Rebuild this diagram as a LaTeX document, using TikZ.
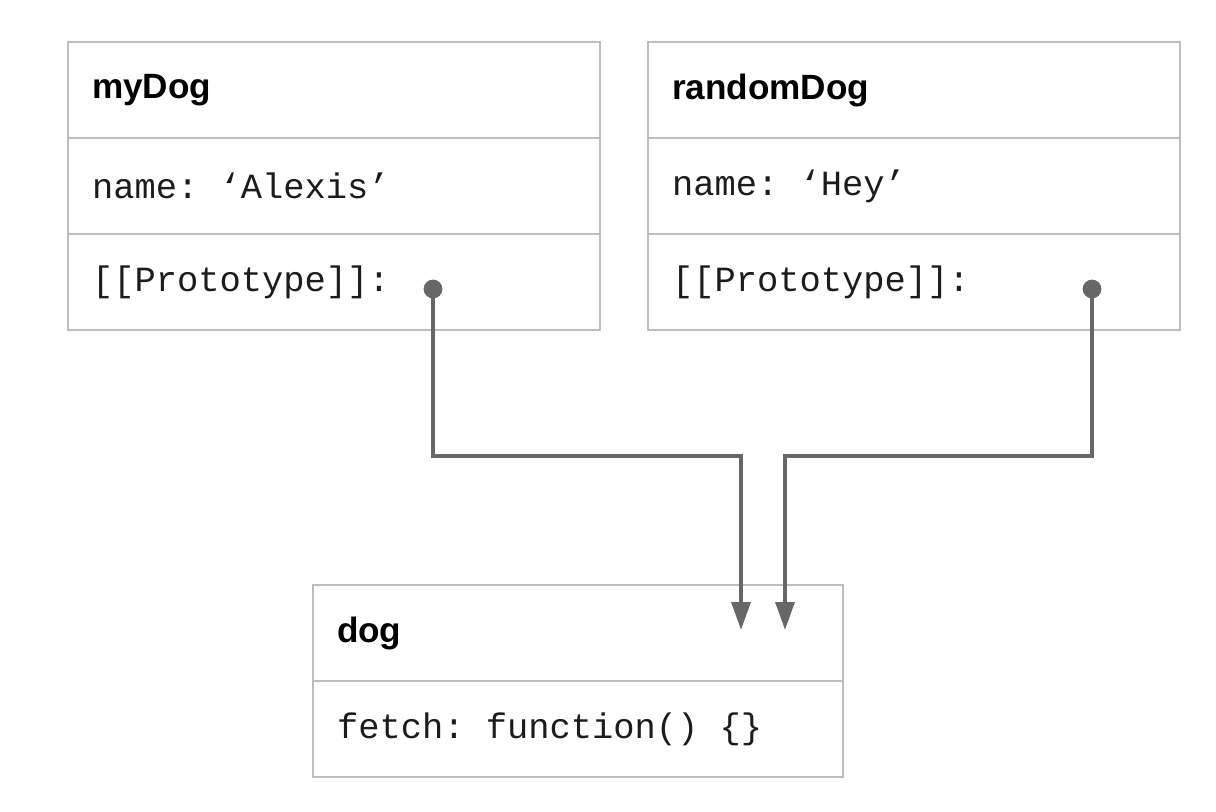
\documentclass[tikz,border=0pt]{standalone}
\usepackage{fontspec}
\usepackage{tikz}
\usetikzlibrary{arrows.meta, positioning}
\usepackage{xcolor}

\newfontfamily\headfont{Liberation Sans}
\newfontfamily\codefont{Liberation Mono}
\newcommand{\monosp}{\hspace*{0.6em}}
\definecolor{boxline}{HTML}{BDBDBD}
\definecolor{linkgray}{HTML}{676767}
\definecolor{textdark}{HTML}{1C1C1C}

\begin{document}
\begin{tikzpicture}[
    header/.style={rectangle, draw=boxline, line width=1.4pt, fill=white, outer sep=0pt,
        minimum height=2.4cm, inner xsep=0.6cm, inner ysep=0pt, text width=#1, align=left,
        text=black, font=\headfont\fontsize{25}{29}\selectfont\bfseries},
    field/.style={rectangle, draw=boxline, line width=1.4pt, fill=white, outer sep=0pt,
        minimum height=2.4cm, inner xsep=0.6cm, inner ysep=0pt, text width=#1, align=left,
        text=textdark, font=\codefont\fontsize{25.2}{28}\selectfont},
    dot/.style={circle, fill=linkgray, inner sep=0pt, minimum size=0.47cm},
    link/.style={-{Triangle[length=0.7cm, width=0.47cm]}, draw=linkgray, line width=2.8pt}
]
\useasboundingbox (0,0) rectangle (30.4,-20.3);

% myDog object
\node[header=12.1cm, anchor=north west] (mydog) at (1.7,-1.05) {myDog};
\node[field=12.1cm, below=0pt of mydog] (mydogname) {name:\monosp‘Alexis’};
\node[field=12.1cm, below=0pt of mydogname] (mydogproto) {[[Prototype]]:};

% randomDog object
\node[header=12.1cm, anchor=north west] (randomdog) at (16.2,-1.05) {randomDog};
\node[field=12.1cm, below=0pt of randomdog] (randomdogname) {name:\monosp‘Hey’};
\node[field=12.1cm, below=0pt of randomdogname] (randomdogproto) {[[Prototype]]:};

% dog object
\node[header=12.05cm, anchor=north west] (dog) at (7.825,-14.625) {dog};
\node[field=12.05cm, below=0pt of dog] (dogfetch) {fetch:\monosp function()\monosp\{\}};

% Pointers
\node[dot] (mydogptr) at (10.825,-7.225) {};
\node[dot] (randomdogptr) at (27.3,-7.225) {};
\coordinate (tipa) at (18.525,-15.75);
\coordinate (tipb) at (19.625,-15.75);

% Connections
\draw[link] (mydogptr.center) -- ++(0,-4.175) -| (tipa);
\draw[link] (randomdogptr.center) -- ++(0,-4.175) -| (tipb);

\end{tikzpicture}
\end{document}
